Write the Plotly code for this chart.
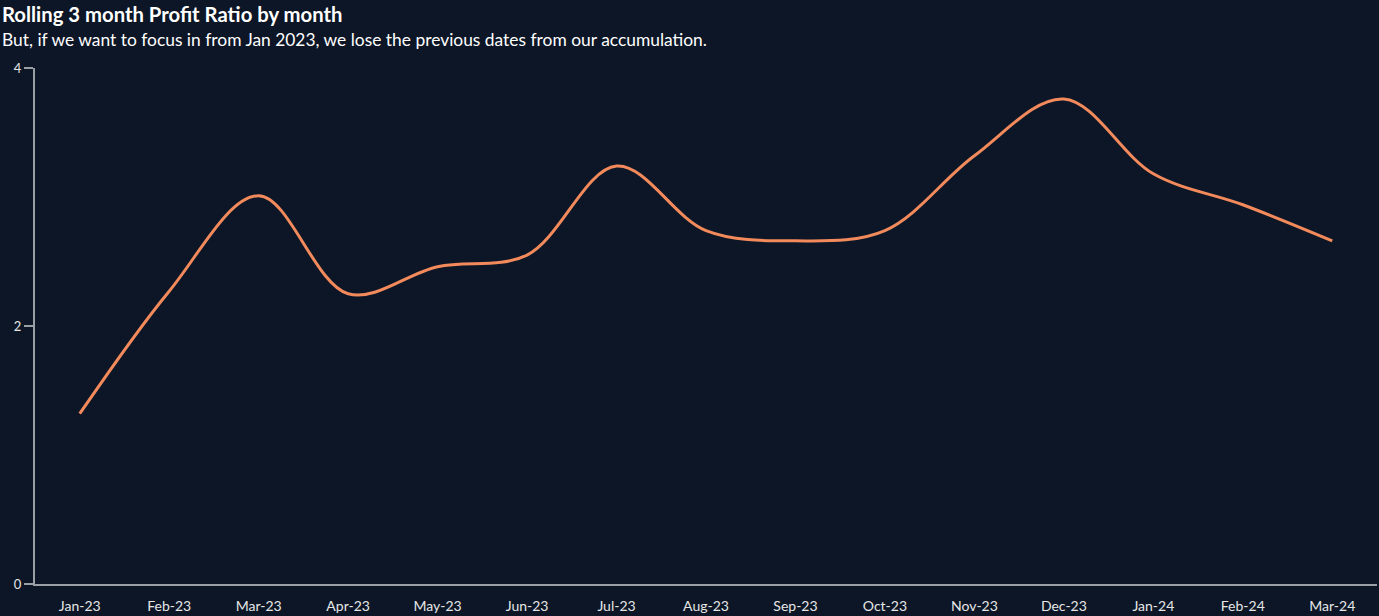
import plotly.graph_objects as go

months = ["Jan-23", "Feb-23", "Mar-23", "Apr-23", "May-23", "Jun-23", "Jul-23",
          "Aug-23", "Sep-23", "Oct-23", "Nov-23", "Dec-23", "Jan-24", "Feb-24", "Mar-24"]
profit_ratio = [1.32, 2.27, 3.01, 2.25, 2.46, 2.55, 3.24,
                2.74, 2.66, 2.74, 3.32, 3.76, 3.18, 2.94, 2.66]
y_ticks = [0, 2, 4]

title = "Rolling 3 month Profit Ratio by month"
subtitle = "But, if we want to focus in from Jan 2023, we lose the previous dates from our accumulation."

W, H = 1379, 616
L, R, T, B = 35, 2, 68, 32
pw, ph = W - L - R, H - T - B

bg = "#0c1626"
font_family = "Lato, 'Source Sans Pro', sans-serif"

fig = go.Figure()
fig.add_trace(go.Scatter(
    x=months, y=profit_ratio, mode="lines",
    line=dict(color="#f28a5c", width=3, shape="spline", smoothing=1.0),
    hoverinfo="x+y", showlegend=False,
))

fig.update_layout(
    width=W, height=H,
    margin=dict(l=L, r=R, t=T, b=B, pad=0),
    paper_bgcolor=bg, plot_bgcolor=bg,
    font=dict(family=font_family, color="#e6e6e6", size=13),
    xaxis=dict(
        type="category", range=[-0.5, len(months) - 0.5],
        showgrid=False, zeroline=False, showline=True, linecolor="#9a9fa6", linewidth=2,
        ticks="", tickfont=dict(size=14, color="#e6e6e6"), ticklabelstandoff=8,
    ),
    yaxis=dict(
        range=[0, 4], tickvals=y_ticks, showgrid=False, zeroline=False,
        showline=True, linecolor="#9a9fa6", linewidth=2,
        ticks="outside", ticklen=9, tickcolor="#9a9fa6", tickwidth=2,
        tickfont=dict(size=13, color="#e6e6e6"),
    ),
    annotations=[
        dict(text="<b>" + title + "</b>", xref="paper", yref="paper",
             x=-L / pw, y=1 + (T - 14) / ph, xanchor="left", yanchor="middle",
             showarrow=False, font=dict(size=20.3, color="#ffffff", family=font_family)),
        dict(text=subtitle, xref="paper", yref="paper",
             x=-L / pw, y=1 + (T - 40) / ph, xanchor="left", yanchor="middle",
             showarrow=False, font=dict(size=17.4, color="#ffffff", family=font_family)),
    ],
)

fig.write_html("out.html")
